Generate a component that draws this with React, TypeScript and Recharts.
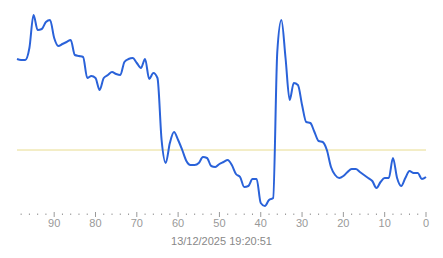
import React from 'react';
import { LineChart, Line, XAxis, YAxis, ReferenceLine } from 'recharts';

// samples ago (0 = now), read right to left
const values: number[] = [
  17.5, 16.5, 19.5, 19.5, 20.5, 17, 13, 17, 27, 17,
  17, 15, 12, 15.5, 17, 18.5, 20, 21.5, 21.5, 20,
  18, 17, 18.5, 22.5, 31, 35, 35.5, 40, 44.5, 45,
  53.5, 63.5, 64.5, 56, 77, 96, 80, 7, 6, 3,
  4.5, 16.5, 16.5, 13, 12.5, 17.5, 19, 23.5, 26, 25,
  24, 22.5, 23, 27, 27.5, 24.5, 23.5, 23.5, 25.5, 31,
  36, 40, 34.5, 24.5, 36, 67, 69.5, 66.5, 76.5, 72,
  74.5, 77, 76.5, 75, 68.5, 69, 70, 68.5, 67, 61,
  67, 68, 67, 77.5, 78, 78.5, 86, 85, 84, 83,
  87, 96, 95, 91.5, 91, 98.5, 82, 76, 76, 76.5,
];
const threshold = 31;
const timestamp = '13/12/2025 19:20:51';
const xTicks: number[] = Array.from({ length: 50 }, (_, k) => k * 2);

const data = values.map((v, i) => ({ ago: i, value: v }));

const FONT = '"Liberation Sans", Arial, sans-serif';

function Tick(props: any) {
  const { x, y, payload } = props;
  const v = payload.value;
  if (v % 10 === 0) {
    return (
      <g>
        <line x1={x} x2={x} y1={y} y2={y + 5} stroke="#999" strokeWidth={1} />
        <text x={x} y={y + 15} textAnchor="middle" fontSize={11} fontFamily={FONT} fill="#999">
          {v}
        </text>
      </g>
    );
  }
  return <rect x={x - 0.5} y={y + 1.5} width={1} height={1.5} fill="#999" />;
}

export default function App() {
  return (
    <div style={{ position: 'absolute', left: 0, top: 0, background: '#fff' }}>
      <LineChart
        width={443}
        height={258}
        data={data}
        margin={{ top: 12, right: 17, bottom: 0, left: 17 }}
      >
        <XAxis
          dataKey="ago"
          type="number"
          domain={[0, 99]}
          reversed
          ticks={xTicks}
          interval={0}
          tick={<Tick />}
          tickSize={0}
          tickMargin={0}
          axisLine={false}
          tickLine={false}
          height={46}
          label={{
            content: ({ viewBox }: any) => (
              <text
                x={viewBox.x + viewBox.width / 2}
                y={viewBox.y + 33}
                textAnchor="middle"
                fontSize={11}
                fontFamily={FONT}
                fill="#888"
              >
                {timestamp}
              </text>
            ),
          }}
        />
        <YAxis hide domain={[0, 100]} />
        <ReferenceLine y={threshold} stroke="#e8dc8e" strokeWidth={1} ifOverflow="visible" />
        <Line
          type="monotone"
          dataKey="value"
          stroke="#2a62d9"
          strokeWidth={2}
          dot={false}
          isAnimationActive={false}
        />
      </LineChart>
    </div>
  );
}
